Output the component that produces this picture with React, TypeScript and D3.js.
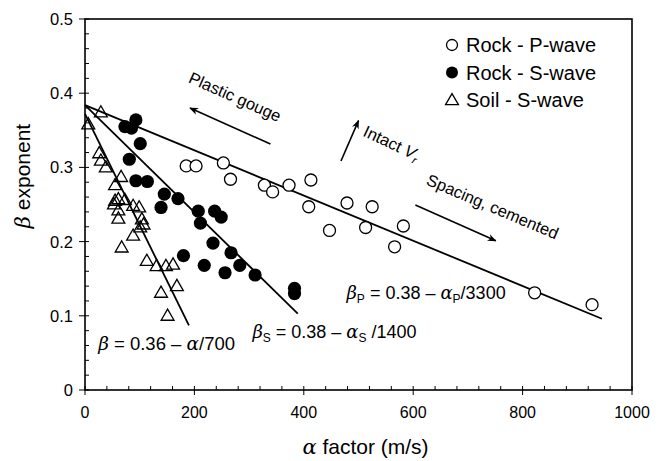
import React from 'react';
import * as d3 from 'd3';

// alpha factor (m/s), beta exponent
const rockP: [number, number][] = [
  [185, 0.302], [203, 0.302], [253, 0.306], [266, 0.284], [328, 0.276], [343, 0.267],
  [373, 0.276], [413, 0.283], [409, 0.247], [447, 0.215], [479, 0.252], [525, 0.247],
  [513, 0.219], [582, 0.221], [566, 0.193], [822, 0.131], [927, 0.115],
];
const rockS: [number, number][] = [
  [73, 0.355], [85, 0.353], [93, 0.364], [101, 0.332], [81, 0.311], [93, 0.282],
  [114, 0.281], [145, 0.264], [170, 0.258], [139, 0.246], [207, 0.241], [237, 0.241],
  [249, 0.233], [211, 0.225], [234, 0.198], [180, 0.181], [267, 0.185], [218, 0.168],
  [283, 0.168], [256, 0.158], [311, 0.155], [383, 0.137], [383, 0.130],
];
const soilS: [number, number][] = [
  [6, 0.357], [29, 0.373], [26, 0.318], [29, 0.308], [38, 0.299], [66, 0.286],
  [55, 0.275], [61, 0.256], [55, 0.254], [73, 0.255], [53, 0.249], [61, 0.241],
  [61, 0.230], [88, 0.247], [99, 0.245], [104, 0.229], [107, 0.222], [101, 0.218],
  [88, 0.207], [67, 0.191], [113, 0.173], [131, 0.166], [148, 0.166], [161, 0.168],
  [139, 0.130], [168, 0.139], [151, 0.099],
];

// fitted trend lines (end points)
const fitP: [number, number][] = [[0, 0.384], [945, 0.096]];
const fitS: [number, number][] = [[0, 0.384], [389, 0.103]];
const fitSoil: [number, number][] = [[0, 0.372], [190, 0.087]];

const xTicks = [0, 200, 400, 600, 800, 1000];
const yTicks = [0, 0.1, 0.2, 0.3, 0.4, 0.5];
const yTickLabels = ['0', '0.1', '0.2', '0.3', '0.4', '0.5'];

const legendItems = ['Rock - P-wave', 'Rock - S-wave', 'Soil - S-wave'];

// annotation arrows [from, to] in data units
const arrowGouge: [number, number][] = [[339, 0.3315], [192, 0.38]];
const arrowIntact: [number, number][] = [[468, 0.3086], [500, 0.363]];
const arrowSpacing: [number, number][] = [[604, 0.2493], [751, 0.2011]];

const W = 665;
const H = 461;
const margin = { top: 19, right: 33, bottom: 71, left: 85 };
const font = '"Liberation Sans", Arial, Helvetica, sans-serif';
const greek = "'DejaVu Serif', serif";

const App: React.FC = () => {
  const x = d3.scaleLinear().domain([0, 1000]).range([margin.left, W - margin.right]);
  const y = d3.scaleLinear().domain([0, 0.5]).range([H - margin.bottom, margin.top]);
  const line = d3.line<[number, number]>().x(d => x(d[0])).y(d => y(d[1]));
  const tri = d3.symbol().type(d3.symbolTriangle).size(72)();

  const xMinor = d3.range(0, 1001, 40).filter(v => v % 200 !== 0);
  const yMinor = d3.range(0, 51, 2).filter(v => v % 10 !== 0).map(v => v / 100);

  const x0 = x(0), x1 = x(1000), y0 = y(0), y1 = y(0.5);

  const rotText = (cx: number, cy: number, ang: number, content: React.ReactNode, size = 16) => (
    <text transform={`translate(${x(cx)},${y(cy)}) rotate(${ang})`} textAnchor="middle"
      fontSize={size} fontFamily={font}>{content}</text>
  );

  return (
    <svg width={W} height={H} style={{ position: 'absolute', left: 0, top: 0 }}>
      <defs>
        <marker id="arr" viewBox="0 0 10 10" refX="9" refY="5" markerWidth="9" markerHeight="9"
          orient="auto" markerUnits="userSpaceOnUse">
          <path d="M0,1 L10,5 L0,9 L3,5 z" fill="#000" />
        </marker>
      </defs>
      <rect width={W} height={H} fill="#fff" />

      {/* frame */}
      <rect x={x0} y={y1} width={x1 - x0} height={y0 - y1} fill="none" stroke="#000" strokeWidth={1.6} />

      {/* x ticks */}
      {xTicks.map(t => (
        <g key={'xt' + t}>
          <line x1={x(t)} x2={x(t)} y1={y0 - 4} y2={y0 + 5} stroke="#000" strokeWidth={1} />
          <text x={x(t)} y={y0 + 28} textAnchor="middle" fontSize={16} fontFamily={font}>{t}</text>
        </g>
      ))}
      {xMinor.map(t => (
        <line key={'xm' + t} x1={x(t)} x2={x(t)} y1={y0 - 4} y2={y0} stroke="#000" strokeWidth={1} />
      ))}

      {/* y ticks */}
      {yTicks.map((t, i) => (
        <g key={'yt' + t}>
          <line x1={x0 - 6} x2={x0 + 4} y1={y(t)} y2={y(t)} stroke="#000" strokeWidth={1} />
          <text x={x0 - 12} y={y(t) + 6} textAnchor="end" fontSize={16.5} fontFamily={font}>{yTickLabels[i]}</text>
        </g>
      ))}
      {yMinor.map(t => (
        <line key={'ym' + t} x1={x0} x2={x0 + 4} y1={y(t)} y2={y(t)} stroke="#000" strokeWidth={1} />
      ))}

      {/* axis titles */}
      <text x={(x0 + x1) / 2 + 7} y={H - 7} textAnchor="middle" fontSize={21} fontFamily={font}>
        <tspan fontStyle="italic" fontFamily={greek}>α</tspan> factor (m/s)
      </text>
      <text transform={`translate(30,176) rotate(-90)`} textAnchor="middle" fontSize={21} fontFamily={font}>
        <tspan fontStyle="italic" fontFamily={greek}>β</tspan> exponent
      </text>

      {/* fit lines */}
      {[fitP, fitS, fitSoil].map((f, i) => (
        <path key={'fit' + i} d={line(f) ?? ''} fill="none" stroke="#000" strokeWidth={1.8} />
      ))}

      {/* data */}
      {rockP.map((d, i) => (
        <circle key={'p' + i} cx={x(d[0])} cy={y(d[1])} r={6} fill="#fff" stroke="#000" strokeWidth={1.3} />
      ))}
      {rockS.map((d, i) => (
        <circle key={'s' + i} cx={x(d[0])} cy={y(d[1])} r={6.6} fill="#000" />
      ))}
      {soilS.map((d, i) => (
        <path key={'t' + i} d={tri ?? ''} transform={`translate(${x(d[0])},${y(d[1])})`}
          fill="none" stroke="#000" strokeWidth={1.3} />
      ))}

      {/* annotation arrows */}
      {[arrowGouge, arrowIntact, arrowSpacing].map((a, i) => (
        <line key={'ar' + i} x1={x(a[0][0])} y1={y(a[0][1])} x2={x(a[1][0])} y2={y(a[1][1])}
          stroke="#000" strokeWidth={1.6} markerEnd="url(#arr)" />
      ))}
      {rotText(270, 0.388, 24, 'Plastic gouge', 16.5)}
      {rotText(556, 0.326, 25, <>Intact <tspan fontStyle="italic">V</tspan><tspan fontStyle="italic" fontSize={11} dy={4}>r</tspan></>, 16.5)}
      {rotText(741, 0.24, 23, 'Spacing, cemented', 16.5)}

      {/* equations */}
      <text x={x(24)} y={y(0.054)} fontSize={18.5} fontFamily={font}>
        <tspan fontStyle="italic" fontFamily={greek}>β</tspan> = 0.36 – <tspan fontStyle="italic" fontFamily={greek}>α</tspan>/700
      </text>
      <text x={x(306)} y={y(0.07)} fontSize={18} fontFamily={font}>
        <tspan fontStyle="italic" fontFamily={greek}>β</tspan><tspan fontSize={12} dy={4}>S</tspan><tspan dy={-4}> = 0.38 – </tspan><tspan fontStyle="italic" fontFamily={greek}>α</tspan><tspan fontSize={12} dy={4}>S</tspan><tspan dy={-4}> /1400</tspan>
      </text>
      <text x={x(478)} y={y(0.1226)} fontSize={18} fontFamily={font}>
        <tspan fontStyle="italic" fontFamily={greek}>β</tspan><tspan fontSize={12} dy={4}>P</tspan><tspan dy={-4}> = 0.38 – </tspan><tspan fontStyle="italic" fontFamily={greek}>α</tspan><tspan fontSize={12} dy={4}>P</tspan><tspan dy={-4}>/3300</tspan>
      </text>

      {/* legend */}
      {legendItems.map((name, i) => {
        const ly = 45 + i * 27.5;
        const lx = 452;
        return (
          <g key={'lg' + i}>
            {i === 0 && <circle cx={lx} cy={ly} r={5.5} fill="#fff" stroke="#000" strokeWidth={1.3} />}
            {i === 1 && <circle cx={lx} cy={ly} r={6} fill="#000" />}
            {i === 2 && <path d={tri ?? ''} transform={`translate(${lx},${ly + 1})`} fill="none" stroke="#000" strokeWidth={1.3} />}
            <text x={lx + 14} y={ly + 7} fontSize={20} fontFamily={font}>{name}</text>
          </g>
        );
      })}
    </svg>
  );
};

export default App;
